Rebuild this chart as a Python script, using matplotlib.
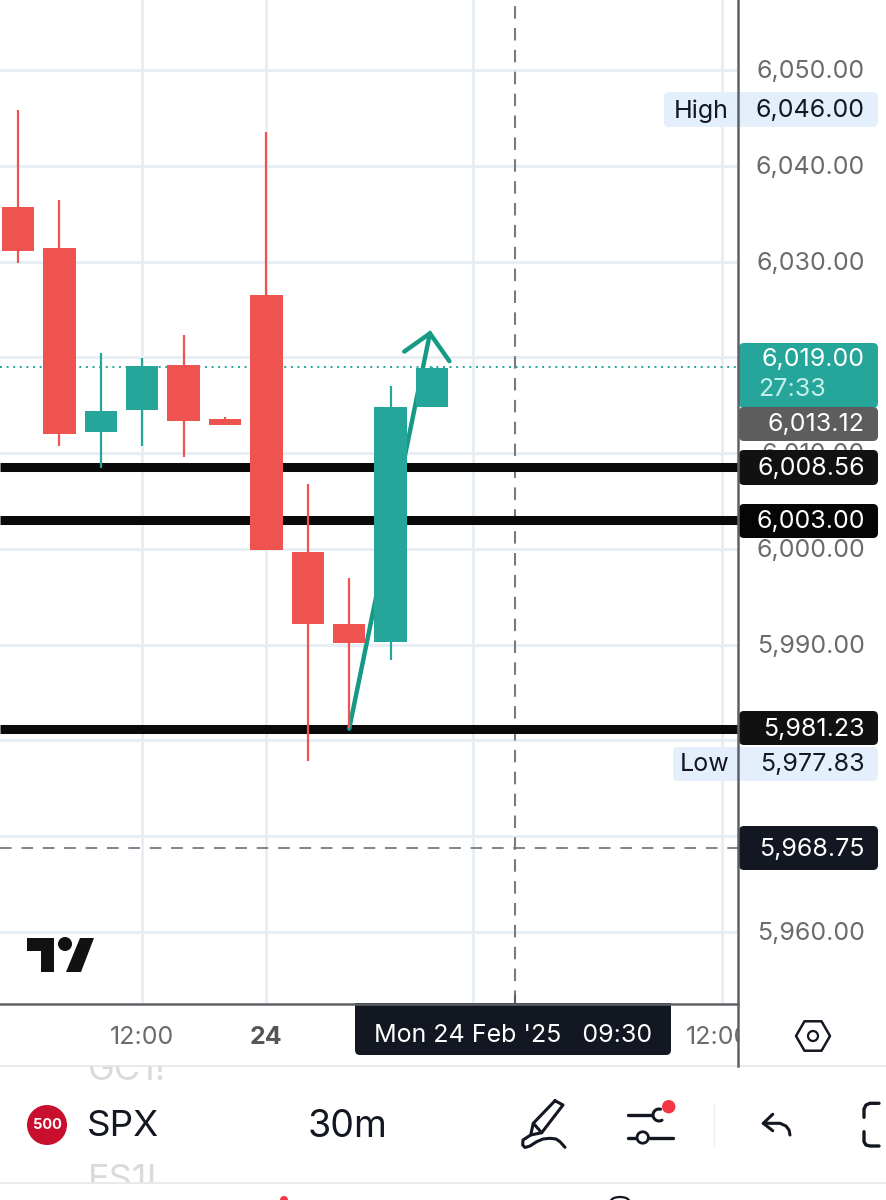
import matplotlib
matplotlib.use("Agg")
import matplotlib.pyplot as plt
from matplotlib.patches import Rectangle, FancyBboxPatch, Circle, Polygon, Ellipse
import numpy as np

plt.rcParams['font.family'] = ['Inter', 'DejaVu Sans']

# candles, left to right
opens = [6035.7, 6031.4, 6012.2, 6014.5, 6019.2, 6013.6, 6026.5, 5999.7, 5992.2, 5990.3, 6014.8]
closes = [6031.1, 6012.0, 6014.4, 6019.1, 6013.35, 6012.9, 5999.9, 5992.2, 5990.2, 6014.8, 6018.9]
highs = [6045.8, 6036.4, 6020.5, 6019.9, 6022.3, 6013.8, 6043.5, 6006.8, 5997.0, 6017.0, 6019.0]
lows = [6029.85, 6010.7, 6008.4, 6010.7, 6009.6, 6012.9, 5999.9, 5977.85, 5981.3, 5988.4, 6014.8]

# levels
grid_prices = [6050, 6040, 6030, 6020, 6010, 6000, 5990, 5980, 5970, 5960]
price_labels = [6050, 6040, 6030, 6010, 6000, 5990, 5960]  # the others sit under the tags
time_ticks = [3, 6, 11, 17]
time_labels = ["12:00", "24", "", "12:00"]
black_levels = [6008.56, 6003.00, 5981.23]
dashed_level = 5968.75
last_price = 6019.00
crosshair_x = 12

# hand drawn arrow (candle index, price)
arrow_x = [8, 9.95]
arrow_y = [5981.23, 6022.5]
head_x = [9.33, 9.95, 10.42]
head_y = [6020.6, 6022.5, 6019.6]

GREEN = "#26a69a"
RED = "#ef5350"
GRID = "#e6eef4"
DARK = "#131722"
TICK = "#6b6b6b"

W, H = 886, 1200
fig = plt.figure(figsize=(W / 100, H / 100), dpi=100, facecolor="white")

# chart area
ax = fig.add_axes([0, 1 - 1003 / H, 738 / W, 1003 / H])
ax.set_xlim(-18 / 41.4, (738 - 18) / 41.4)
ax.set_ylim(5960 + (932 - 1003) / 9.578, 5960 + 932 / 9.578)
ax.axis("off")

for p in grid_prices:
    ax.axhline(p, color=GRID, lw=2, zorder=1)
for t in time_ticks:
    ax.axvline(t, color=GRID, lw=2, zorder=1)

ax.axhline(last_price, color=GREEN, lw=1.4, ls=(0, (1, 2.4)), zorder=2)
ax.axhline(dashed_level, color="#80838c", lw=1.4, ls=(0, (6, 5)), zorder=2)
ax.axvline(crosshair_x, color="#777a80", lw=1.5, ls=(0, (6, 4.5)), zorder=2)

for lvl in black_levels:
    ax.axhline(lvl, color="#0a0a0a", lw=6.5, zorder=3, solid_capstyle="butt")

ax.plot(arrow_x, arrow_y, color="#169a85", lw=3.2, zorder=4, solid_capstyle="round")
ax.plot(head_x, head_y, color="#169a85", lw=3.2, zorder=4, solid_capstyle="round", solid_joinstyle="miter")

for i in range(len(opens)):
    col = GREEN if closes[i] >= opens[i] else RED
    ax.vlines(i, lows[i], highs[i], color=col, lw=1.6, zorder=5)
    ax.bar(i, abs(closes[i] - opens[i]), bottom=min(opens[i], closes[i]), width=0.78, color=col, zorder=6)

# everything around the chart, in pixels
ui = fig.add_axes([0, 0, 1, 1], facecolor="none")
ui.set_xlim(0, W)
ui.set_ylim(H, 0)
ui.axis("off")


def y_px(price):
    return 932 - (price - 5960) * 9.578


def box(x0, y0, x1, y1, col, r=5, z=3):
    ui.add_patch(FancyBboxPatch((x0 + r, y0 + r), x1 - x0 - 2 * r, y1 - y0 - 2 * r,
                                boxstyle=f"round,pad={r},rounding_size={r}", fc=col, ec="none", zorder=z))


def label(x, y, s, col, size=18, ha="right", z=4, **kw):
    return ui.text(x, y + 1.8, s, color=col, fontsize=size, ha=ha, va="center", zorder=z, **kw)


def stroke(xs, ys, lw=2.2):
    ui.plot(xs, ys, color=DARK, lw=lw, zorder=4, solid_capstyle="round", solid_joinstyle="round")


def white(x0, y0, x1, y1, z):
    ui.add_patch(Rectangle((x0, y0), x1 - x0, y1 - y0, fc="white", ec="none", zorder=z))


for p in price_labels:
    label(865, y_px(p), f"{p:,.2f}", TICK, z=2)

# price boxes
box(664, 92, 878, 127, "#e3effb")
label(865, 109, "6,046.00", DARK)
label(701, 109, "High", DARK, ha="center")

box(739, 343, 878, 408, GREEN)
label(865, 358, "6,019.00", "white")
label(758, 388, "27:33", "#c4f0e9", ha="left")

box(739, 407, 878, 441, "#5d5d5d")
label(865, 423, "6,013.12", "white")

box(739, 450, 878, 485, "#111111")
label(865, 467, "6,008.56", "white")
box(739, 504, 878, 538, "#050505")
label(865, 520, "6,003.00", "white")
box(739, 711, 878, 745, "#111111")
label(865, 728, "5,981.23", "white")

box(673, 747, 878, 781, "#e3effb")
label(865, 763, "5,977.83", DARK)
label(705, 763, "Low", DARK, ha="center")

box(739, 826, 878, 870, DARK)
label(865, 848, "5,968.75", "white")

# tradingview logo
ui.add_patch(Polygon([(27, 938), (54, 938), (54, 972), (41, 972), (41, 951), (27, 951)], fc="#111111", ec="none", zorder=4))
ui.add_patch(Circle((65, 944), 7, fc="#111111", ec="none", zorder=4))
ui.add_patch(Polygon([(80, 938), (94, 938), (81, 972), (66, 972)], fc="#111111", ec="none", zorder=4))

# axis lines
ui.plot([738, 738], [0, 1066], color="#5f6166", lw=1.8, zorder=5)
ui.plot([0, 738], [1004, 1004], color="#5f6166", lw=1.8, zorder=5)
ui.plot([0, W], [1066, 1066], color="#e6e6e8", lw=1.2, zorder=2)
ui.plot([0, W], [1183, 1183], color="#e6e6e8", lw=1.2, zorder=2)

# time axis
x_px = [18 + 41.4 * t for t in time_ticks]
label(x_px[0], 1036, time_labels[0], TICK, ha="center")
label(x_px[1], 1036, time_labels[1], "#555555", ha="center", fontweight="bold")
label(686, 1036, time_labels[3], TICK, ha="left", z=2)
white(738, 1010, 785, 1062, 3)  # last label runs under the price scale

ui.add_patch(Rectangle((355, 1003), 316, 30, fc=DARK, ec="none", zorder=3))
box(355, 1015, 671, 1055, DARK)
label(513, 1034, "Mon 24 Feb '25   09:30", "white", ha="center")
ui.plot([515, 515], [996, 1003], color="#555555", lw=1.2, zorder=5)

# hexagon icon
ang = np.radians(np.arange(0, 360, 60))
ui.add_patch(Polygon(np.c_[813 + 17 * np.cos(ang), 1036 + 17 * np.sin(ang)], closed=True,
                     fc="none", ec=DARK, lw=1.8, zorder=4, joinstyle="round"))
ui.add_patch(Circle((813, 1036), 5, fc="none", ec=DARK, lw=1.6, zorder=4))

# bottom bar, tabs showing behind it and cut off by white strips
ui.text(88, 1070, "GC1!", color="#d9dadc", fontsize=26, ha="left", va="center", zorder=1)
white(80, 1040, 180, 1066, 1.5)
ui.text(88, 1181, "ES1!", color="#d9dadc", fontsize=26, ha="left", va="center", zorder=1)
white(80, 1183, 180, 1200, 1.5)

ui.add_patch(Circle((47, 1125), 20, fc="#c8102e", ec="none", zorder=4))
label(47, 1123, "500", "white", size=10.5, ha="center", fontweight="bold")
label(87, 1125, "SPX", DARK, size=26.5, ha="left")
label(348, 1125, "30m", DARK, size=27, ha="center")

# pencil
stroke([555, 563, 541.7, 530.7, 533.3, 555], [1100.7, 1105, 1132.7, 1135, 1123.3, 1100.7])
stroke([533.3, 541.7], [1123.3, 1132.7])
stroke([530.7, 523, 522.7, 525, 530, 536.7, 543, 550, 556, 560, 565],
       [1135, 1140, 1145, 1147.5, 1146, 1141.7, 1139, 1138.3, 1139, 1141.7, 1147.3])

# sliders
stroke([628, 652], [1115, 1115], lw=2.4)
arc = np.radians(np.arange(60, 300, 15))
stroke(659 + 6 * np.cos(arc), 1115 + 6 * np.sin(arc))
ui.add_patch(Circle((668.7, 1106.7), 6.7, fc="#f23645", ec="none", zorder=5))
stroke([628, 636], [1137.5, 1137.5], lw=2.4)
stroke([649, 673], [1137.5, 1137.5], lw=2.4)
ui.add_patch(Circle((642.7, 1137.5), 5.7, fc="none", ec=DARK, lw=2, zorder=4))
ui.plot([714, 714], [1105, 1145], color="#eceded", lw=1, zorder=4)

# undo arrow
stroke([772.7, 763.3, 772.7], [1114.3, 1123.3, 1130.7])
stroke([763.3, 780, 786, 789, 790], [1123.3, 1123.3, 1126, 1130, 1135])

# fullscreen bracket, runs off the edge
stroke([879, 870, 866, 864, 864], [1103.3, 1103.3, 1105, 1109, 1117.3], lw=2.4)
stroke([864, 864, 866, 870, 879], [1131.7, 1141.7, 1145, 1146, 1146], lw=2.4)

# tops of the icons in the cut off tab bar
ui.add_patch(Circle((284, 1200), 4, fc="#f23645", ec="none", zorder=4))
ui.add_patch(Ellipse((620, 1201), 18, 8, fc="none", ec=DARK, lw=1.6, zorder=4))

fig.savefig("out.png", dpi=100, facecolor="white")
